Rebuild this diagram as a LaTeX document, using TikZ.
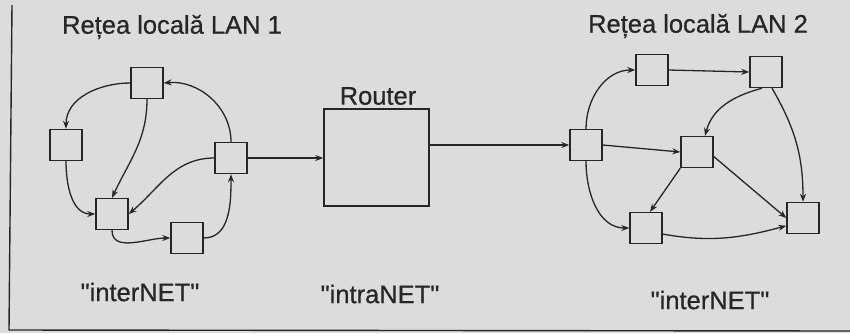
\documentclass[tikz,border=0pt]{standalone}
\usepackage{fontspec}
\setmainfont{Liberation Sans}
\newfontfamily\arialx{Liberation Sans}[UprightFeatures={FakeBold=0.6}]
\usetikzlibrary{arrows.meta}
\definecolor{paper}{HTML}{DCDCDA}
\definecolor{ink}{HTML}{262626}
\begin{document}
\begin{tikzpicture}[x=1pt,y=1pt,
  box/.style={draw=ink, line width=1.4pt, minimum width=32pt, minimum height=31pt, inner sep=0pt},
  bigbox/.style={draw=ink, line width=1.5pt, minimum width=105pt, minimum height=97pt, inner sep=0pt},
  lbl/.style={text=ink, font=\arialx\fontsize{25.5}{30}\selectfont, inner sep=0pt},
  link/.style={draw=ink, line width=1.3pt, -{Stealth[length=8pt,width=6pt]}},
  frame/.style={draw=ink, line width=1.4pt}]
\useasboundingbox (0,0) rectangle (850,-333);
\fill[paper] (0,0) rectangle (850,-333);
\coordinate (f1) at (12,-5);
\coordinate (f2) at (9,-330);
\coordinate (f3) at (850,-331);
\draw[frame] (f1) -- (f2) -- (f3);
% titles
\node[lbl] (t1) at (172,-27) {Rețea locală LAN 1};
\node[lbl] (t2) at (698,-26) {Rețea locală LAN 2};
\node[lbl] (tr) at (378,-96) {Router};
\node[lbl] (b1) at (140,-292) {"interNET"};
\node[lbl] (b2) at (380,-294) {"intraNET"};
\node[lbl] (b3) at (710,-300) {"interNET"};
% LAN 1
\node[box] (A) at (147,-83) {};
\node[box] (B) at (66,-145) {};
\node[box] (C) at (231,-158) {};
\node[box] (D) at (112,-214) {};
\node[box] (E) at (187,-238) {};
% Router
\node[bigbox] (R) at (376.5,-157.5) {};
% LAN 2
\node[box] (F) at (586,-145) {};
\node[box] (G) at (652,-70) {};
\node[box] (H) at (766,-72) {};
\node[box] (I) at (697,-152) {};
\node[box] (J) at (646,-228) {};
\node[box] (K) at (803,-218) {};
% LAN 1 links
\draw[link] (A.west) to[out=180,in=90] (B.north);
\draw[link] (C.north) to[out=90,in=5] (A.east);
\draw[link] (A.south) to[out=-90,in=65] (D.north);
\draw[link] (B.south) to[out=-90,in=180] (D.west);
\draw[link] (C.west) to[out=180,in=40] (D.east);
\draw[link] (D.south) to[out=-90,in=180] (E.west);
\draw[link] (E.east) to[out=0,in=-90] (C.south);
% inter-network links
\draw[link] (C.east) -- (C.east -| R.west);
\draw[link] (R.east |- F.west) -- (F.west);
% LAN 2 links
\draw[link] (F.north) to[out=90,in=180] (G.west);
\draw[link] (G.east) -- (H.west);
\draw[link] ([xshift=-4pt]H.south) to[out=195,in=75] ([xshift=8pt]I.north);
\draw[link] ([xshift=6pt]H.south) to[out=-60,in=90] (K.north);
\draw[link] (F.east) -- (I.west);
\draw[link] (I.south west) -- ([xshift=4pt]J.north);
\draw[link] (I.-15) -- (K.west);
\draw[link] (F.south) to[out=-90,in=180] (J.west);
\draw[link] (J.-20) to[out=-10,in=195] (K.-155);
\end{tikzpicture}
\end{document}
